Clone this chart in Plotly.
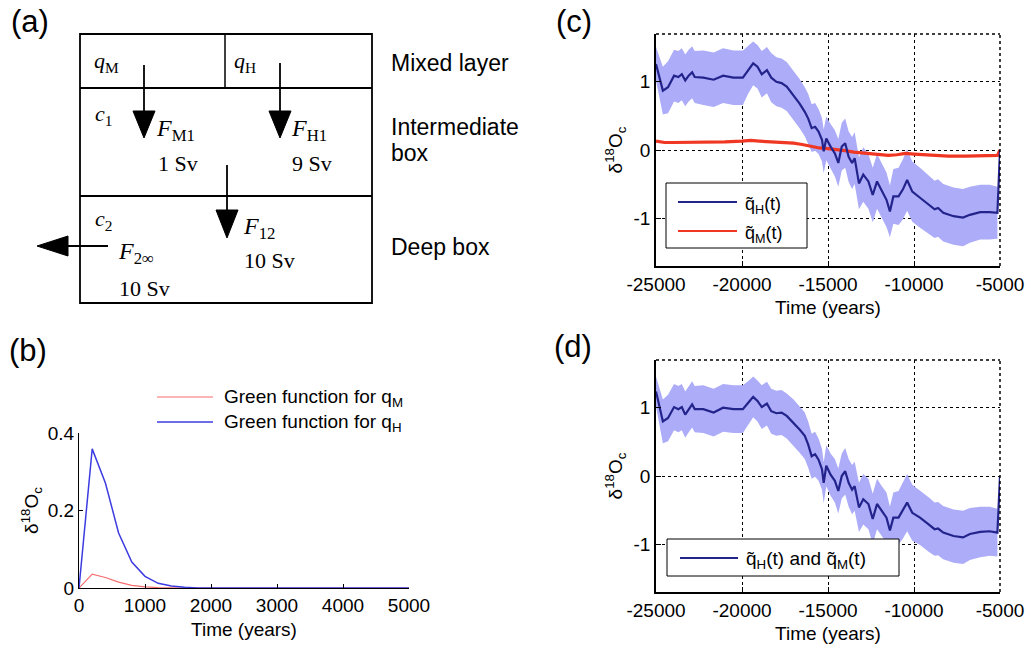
import plotly.graph_objects as go

W, H = 1031, 653

# ---------------- data ----------------
# panel (b): Green functions
green_t = [0, 200, 400, 600, 800, 1000, 1200, 1400, 1600, 1800, 2000, 3000, 4000, 5000]
green_qH = [0.0, 0.359, 0.271, 0.142, 0.067, 0.030, 0.012, 0.005, 0.002, 0.0, 0.0, 0.0, 0.0, 0.0]
green_qM = [0.0, 0.036, 0.027, 0.015, 0.007, 0.003, 0.001, 0.0, 0.0, 0.0, 0.0, 0.0, 0.0, 0.0]

# panels (c) and (d): time axis
years = [-25000, -24600, -24300, -23950, -23700, -23500, -23300, -23100, -22900, -22750,
         -22250, -21650, -21100, -20500, -19950, -19650, -19350, -19100, -18850, -18550,
         -18300, -18000, -17700, -17400, -17000, -16650, -16350, -16150, -15950, -15750,
         -15550, -15350, -15250, -15100, -14850, -14600, -14400, -14200, -14000, -13800,
         -13600, -13450, -13200, -12950, -12650, -12400, -12150, -11900, -11600, -11400,
         -11200, -10900, -10650, -10400, -10100, -9650, -9150, -8800, -8600, -8300,
         -7700, -7150, -6750, -6150, -5600, -5150, -5000]

qH_c = [1.26, 0.87, 0.92, 1.09, 1.07, 1.11, 1.02, 1.09, 1.14, 1.07,
        1.06, 1.03, 1.09, 1.06, 1.06, 1.17, 1.27, 1.22, 1.11, 1.17,
        1.06, 1.00, 0.98, 0.93, 0.80, 0.68, 0.56, 0.46, 0.32, 0.34,
        0.27, 0.15, -0.02, 0.17, 0.05, -0.05, -0.19, 0.05, 0.10, -0.10,
        -0.19, -0.12, -0.49, -0.36, -0.46, -0.66, -0.46, -0.58, -0.73, -0.90,
        -0.68, -0.68, -0.58, -0.44, -0.61, -0.70, -0.80, -0.87, -0.85, -0.92,
        -0.97, -0.99, -0.95, -0.91, -0.91, -0.92, 0.0]
band_c = [0.25, 0.35, 0.38, 0.38, 0.38, 0.38, 0.38, 0.38, 0.38, 0.38,
          0.40, 0.40, 0.40, 0.40, 0.40, 0.35, 0.32, 0.32, 0.34, 0.34,
          0.36, 0.36, 0.36, 0.36, 0.36, 0.36, 0.36, 0.36, 0.35, 0.35,
          0.33, 0.32, 0.32, 0.32, 0.33, 0.34, 0.35, 0.35, 0.36, 0.37,
          0.38, 0.38, 0.38, 0.40, 0.40, 0.40, 0.40, 0.40, 0.40, 0.38,
          0.40, 0.42, 0.44, 0.45, 0.44, 0.44, 0.43, 0.42, 0.42, 0.42,
          0.42, 0.42, 0.41, 0.40, 0.40, 0.38, 0.0]

red_years = [-25000, -24500, -24000, -23000, -22000, -21000, -20000, -19500, -19000, -18000,
             -17000, -16500, -16000, -15500, -15000, -14500, -14000, -13500, -13000, -12500,
             -12000, -11500, -11000, -10500, -10000, -9500, -9000, -8500, -8000, -7000,
             -6000, -5500, -5150, -5000]
qM_c = [0.13, 0.11, 0.11, 0.11, 0.12, 0.12, 0.13, 0.14, 0.13, 0.12,
        0.10, 0.08, 0.05, 0.03, 0.02, 0.01, -0.01, -0.03, -0.04, -0.06,
        -0.07, -0.08, -0.07, -0.05, -0.06, -0.07, -0.08, -0.08, -0.09, -0.09,
        -0.09, -0.09, -0.08, 0.0]

qHM_d = [1.24, 0.80, 0.85, 1.01, 0.98, 1.01, 0.90, 0.98, 1.05, 0.98,
         0.98, 0.93, 1.00, 0.98, 0.98, 1.07, 1.16, 1.10, 1.01, 1.06,
         0.95, 0.92, 0.93, 0.88, 0.78, 0.68, 0.59, 0.46, 0.29, 0.32,
         0.24, 0.10, -0.10, 0.15, 0.02, -0.07, -0.22, 0.00, 0.07, -0.10,
         -0.20, -0.15, -0.46, -0.34, -0.41, -0.63, -0.41, -0.51, -0.61, -0.80,
         -0.61, -0.61, -0.51, -0.39, -0.54, -0.61, -0.71, -0.78, -0.77, -0.83,
         -0.88, -0.90, -0.85, -0.82, -0.81, -0.83, 0.0]
band_d = [0.22, 0.32, 0.34, 0.34, 0.34, 0.34, 0.34, 0.34, 0.34, 0.34,
          0.35, 0.35, 0.35, 0.35, 0.35, 0.32, 0.30, 0.30, 0.32, 0.32,
          0.33, 0.33, 0.33, 0.33, 0.34, 0.34, 0.34, 0.34, 0.33, 0.33,
          0.31, 0.30, 0.30, 0.30, 0.31, 0.32, 0.33, 0.33, 0.34, 0.35,
          0.36, 0.36, 0.36, 0.37, 0.37, 0.37, 0.37, 0.37, 0.37, 0.35,
          0.37, 0.39, 0.41, 0.42, 0.41, 0.40, 0.40, 0.39, 0.39, 0.39,
          0.39, 0.39, 0.38, 0.37, 0.36, 0.35, 0.0]

x_tickvals = [-25000, -20000, -15000, -10000, -5000]
x_ticktext = ["-25000", "-20000", "-15000", "-10000", "-5000"]
y_tickvals = [-1, 0, 1]
y_ticktext = ["-1", "0", "1"]
b_xticks = [0, 1000, 2000, 3000, 4000, 5000]
b_yticks = [0, 0.2, 0.4]
b_yticktext = ["0", "0.2", "0.4"]

legend_b = ["Green function for q<sub>M</sub>", "Green function for q<sub>H</sub>"]
legend_c = ["q\u0303<sub>H</sub>(t)", "q\u0303<sub>M</sub>(t)"]
legend_d = ["q\u0303<sub>H</sub>(t) and q\u0303<sub>M</sub>(t)"]

# ---------------- styles ----------------
SANS = "Liberation Sans, Arial, sans-serif"
SERIF = "Liberation Serif, Times New Roman, serif"
BAND = "rgb(172,172,248)"
NAVY = "rgb(35,35,140)"
RED = "rgb(240,55,35)"
B_RED = "rgb(245,110,110)"
B_BLUE = "rgb(60,60,225)"


def X(px):
    return px / W


def Y(py):
    return 1 - py / H


fig = go.Figure()

# ---- panel (b)
fig.add_trace(go.Scatter(x=green_t, y=green_qM, mode="lines", name=legend_b[0],
                         line=dict(color=B_RED, width=1.2), xaxis="x", yaxis="y"))
fig.add_trace(go.Scatter(x=green_t, y=green_qH, mode="lines", name=legend_b[1],
                         line=dict(color=B_BLUE, width=1.5), xaxis="x", yaxis="y"))


def band_poly(ys, hw):
    xs = years[:-1]
    up = [v + h for v, h in zip(ys[:-1], hw[:-1])]
    lo = [v - h for v, h in zip(ys[:-1], hw[:-1])]
    return xs + xs[::-1], up + lo[::-1]


# ---- panel (c)
bx, by = band_poly(qH_c, band_c)
fig.add_trace(go.Scatter(x=bx, y=by, fill="toself", fillcolor=BAND, mode="lines", line=dict(width=0),
                         hoverinfo="skip", xaxis="x3", yaxis="y3"))
fig.add_trace(go.Scatter(x=red_years, y=qM_c, mode="lines", name=legend_c[1],
                         line=dict(color=RED, width=3.2), xaxis="x3", yaxis="y3"))
fig.add_trace(go.Scatter(x=years, y=qH_c, mode="lines", name=legend_c[0],
                         line=dict(color=NAVY, width=2.2), xaxis="x3", yaxis="y3"))

# ---- panel (d)
bx, by = band_poly(qHM_d, band_d)
fig.add_trace(go.Scatter(x=bx, y=by, fill="toself", fillcolor=BAND, mode="lines", line=dict(width=0),
                         hoverinfo="skip", xaxis="x4", yaxis="y4"))
fig.add_trace(go.Scatter(x=years, y=qHM_d, mode="lines", name=legend_d[0],
                         line=dict(color=NAVY, width=2.2), xaxis="x4", yaxis="y4"))

tickfont = dict(family=SANS, size=19, color="black")
titlefont = dict(family=SANS, size=19, color="black")

common_x = dict(range=[-25000, -5000], tickvals=x_tickvals, ticktext=x_ticktext, ticks="inside", ticklen=5,
                tickcolor="black", showline=True, linecolor="black", linewidth=1.5, mirror=False,
                showgrid=True, gridcolor="black", griddash="dot", gridwidth=1.2, zeroline=False,
                automargin=False, tickfont=tickfont,
                title=dict(text="Time (years)", font=titlefont, standoff=7))
common_y = dict(range=[-1.7, 1.7], tickvals=y_tickvals, ticktext=y_ticktext, ticks="inside", ticklen=5,
                tickcolor="black", showline=True, linecolor="black", linewidth=1.5, mirror=False,
                showgrid=True, gridcolor="black", griddash="dot", gridwidth=1.2, zeroline=False,
                automargin=False, tickfont=tickfont,
                title=dict(text="\u03b4<sup>18</sup>O<sub>c</sub>", font=titlefont, standoff=6))

fig.update_layout(
    width=W, height=H, margin=dict(l=0, r=0, t=0, b=0, autoexpand=False),
    paper_bgcolor="white", plot_bgcolor="rgba(0,0,0,0)", showlegend=False,
    xaxis=dict(domain=[X(79), X(409)], anchor="y", range=[0, 5000], tickvals=b_xticks, ticks="inside",
               ticklen=4, tickcolor="black", showline=True, linecolor="black", linewidth=1, showgrid=False,
               zeroline=False, automargin=False, tickfont=tickfont,
               title=dict(text="Time (years)", font=titlefont, standoff=7)),
    yaxis=dict(domain=[Y(588), Y(433)], anchor="x", range=[0, 0.4], tickvals=b_yticks, ticktext=b_yticktext,
               ticks="inside", ticklen=4, tickcolor="black", showline=True, linecolor="black", linewidth=1,
               showgrid=False, zeroline=False, automargin=False, tickfont=tickfont,
               title=dict(text="\u03b4<sup>18</sup>O<sub>c</sub>", font=titlefont, standoff=4)),
    xaxis3=dict(domain=[X(656), X(1000)], anchor="y3", **common_x),
    yaxis3=dict(domain=[Y(266), Y(34)], anchor="x3", **common_y),
    xaxis4=dict(domain=[X(656), X(1000)], anchor="y4", **common_x),
    yaxis4=dict(domain=[Y(592), Y(360)], anchor="x4", **common_y),
)

shapes = []
annotations = []


def pline(x0, y0, x1, y1, w=1.5, color="black", dash=None):
    ln = dict(color=color, width=w)
    if dash:
        ln["dash"] = dash
    shapes.append(dict(type="line", xref="paper", yref="paper", x0=X(x0), y0=Y(y0), x1=X(x1), y1=Y(y1),
                       line=ln))


def tri(pts):
    path = "M " + " L ".join(f"{X(a)},{Y(b)}" for a, b in pts) + " Z"
    shapes.append(dict(type="path", xref="paper", yref="paper", path=path, fillcolor="black",
                       line=dict(color="black", width=1)))


def txt(x, y, s, size, font=SERIF, xanchor="left"):
    annotations.append(dict(x=X(x), y=Y(y), xref="paper", yref="paper", text=s, showarrow=False,
                            xanchor=xanchor, yanchor="middle", font=dict(family=font, size=size, color="black")))


def box(x0, y0, x1, y1):
    shapes.append(dict(type="rect", xref="paper", yref="paper", x0=X(x0), y0=Y(y0), x1=X(x1), y1=Y(y1),
                       fillcolor="white", line=dict(color="black", width=1), layer="above"))


# dotted top/right borders on (c) and (d)
for ax in ("3", "4"):
    shapes.append(dict(type="line", xref=f"x{ax} domain", yref=f"y{ax} domain", x0=0, x1=1, y0=1, y1=1,
                       line=dict(color="black", width=1.5, dash="dot")))
    shapes.append(dict(type="line", xref=f"x{ax} domain", yref=f"y{ax} domain", x0=1, x1=1, y0=0, y1=1,
                       line=dict(color="black", width=1.5, dash="dot")))

# ---- legends (drawn boxes, sample lines, real text)
# (b)
pline(157, 397, 213, 397, 1.2, B_RED)
pline(157, 422, 213, 422, 1.5, B_BLUE)
txt(222, 398, legend_b[0], 19, SANS)
txt(222, 423, legend_b[1], 19, SANS)
# (c)
box(666, 183, 807, 248)
pline(678, 202, 737, 202, 2.2, NAVY)
pline(678, 231, 737, 231, 2.2, RED)
txt(743, 205, legend_c[0], 18, SANS)
txt(743, 234, legend_c[1], 18, SANS)
# (d)
box(667, 539, 899, 576)
pline(680, 558, 738, 558, 2.2, NAVY)
txt(744, 560, legend_d[0], 19, SANS)

# ---- panel (a) box diagram
shapes.append(dict(type="rect", xref="paper", yref="paper", x0=X(80), y0=Y(34), x1=X(372), y1=Y(303),
                   line=dict(color="black", width=1.8)))
pline(80, 88, 372, 88, 1.8)
pline(80, 196, 372, 196, 1.8)
pline(225, 34, 225, 88, 1.5)
for xa, ys, yh, yt in [(144, 65, 111, 138), (280, 63, 111, 138), (227, 165, 210, 238)]:
    pline(xa, ys, xa, yh + 2, 1.8)
    tri([(xa - 11, yh), (xa + 11, yh), (xa, yt)])
pline(108, 246, 66, 246, 1.8)
tri([(68, 236), (68, 256), (37, 246)])

txt(92, 62, "<i>q</i><sub>M</sub>", 22)
txt(232, 62, "<i>q</i><sub>H</sub>", 22)
txt(93, 115, "<i>c</i><sub>1</sub>", 22)
txt(154, 130, "<i>F</i><sub>M1</sub>", 24)
txt(156, 163, "1 Sv", 22)
txt(289, 130, "<i>F</i><sub>H1</sub>", 24)
txt(290, 163, "9 Sv", 22)
txt(93, 220, "<i>c</i><sub>2</sub>", 22)
txt(241, 228, "<i>F</i><sub>12</sub>", 24)
txt(242, 260, "10 Sv", 22)
txt(116, 253, "<i>F</i><sub>2\u221e</sub>", 24)
txt(117, 288, "10 Sv", 22)

txt(389, 63, "Mixed layer", 23, SANS)
txt(389, 127, "Intermediate", 23, SANS)
txt(389, 153, "box", 23, SANS)
txt(389, 247, "Deep box", 23, SANS)

txt(9, 21, "(a)", 31, SANS)
txt(7, 350, "(b)", 31, SANS)
txt(554, 21, "(c)", 31, SANS)
txt(552, 346, "(d)", 31, SANS)

fig.update_layout(shapes=shapes, annotations=annotations)

fig.write_html("out.html")
